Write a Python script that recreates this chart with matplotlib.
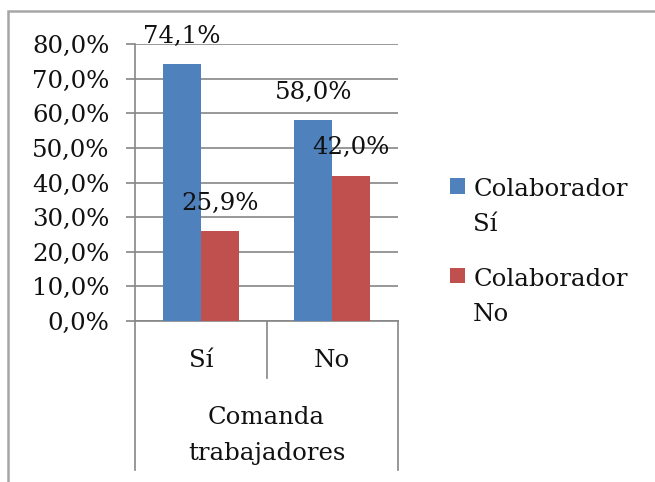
import numpy as np
import matplotlib
matplotlib.use('Agg')
import matplotlib.pyplot as plt
from matplotlib.patches import Rectangle
from matplotlib.lines import Line2D
from matplotlib.ticker import MultipleLocator, FuncFormatter

categories = ['Sí', 'No']
group_label = 'Comanda\ntrabajadores'
series_names = ['Colaborador\nSí', 'Colaborador\nNo']
colab_si = [74.1, 58.0]
colab_no = [25.9, 42.0]
colors = ['#4F81BD', '#C0504D']

plt.rcParams['font.family'] = ['DejaVu Serif']
FS = 17.6
LS = 1.68
GRID = '#868686'
TXT = '#111111'

fig = plt.figure(figsize=(6.55, 4.82), dpi=100)
ax = fig.add_axes([135 / 655, 1 - 321 / 482, 263 / 655, 277 / 482])

x = np.arange(len(categories))
w = 0.29
b1 = ax.bar(x - w / 2, colab_si, w, color=colors[0], label=series_names[0], zorder=3)
b2 = ax.bar(x + w / 2, colab_no, w, color=colors[1], label=series_names[1], zorder=3)

fmt = lambda v: f'{v:.1f}%'.replace('.', ',')
for bars in (b1, b2):
    ax.bar_label(bars, labels=[fmt(v) for v in bars.datavalues], padding=12,
                 fontsize=FS, color=TXT, zorder=5)

ax.set_xlim(-0.5, 1.5)
ax.set_ylim(0, 80)
ax.yaxis.set_major_locator(MultipleLocator(10))
ax.yaxis.set_major_formatter(FuncFormatter(lambda v, p: fmt(v)))
ax.yaxis.grid(True, color=GRID, lw=1.2, zorder=0)
ax.tick_params(axis='y', length=6.5, width=1.2, color=GRID, labelsize=FS,
               pad=12, labelcolor=TXT)
ax.set_xticks([])
for s in ('top', 'right'):
    ax.spines[s].set_visible(False)
for s in ('left', 'bottom'):
    ax.spines[s].set_color(GRID)
    ax.spines[s].set_linewidth(1.2)

# category separators below the axis
for xa, ylo in ((0, -0.538), (0.5, -0.206), (1, -0.538)):
    ax.add_line(Line2D([xa, xa], [0, ylo], transform=ax.transAxes, color=GRID,
                       lw=1.2, clip_on=False))

tr = ax.get_xaxis_transform()
for xi, c in zip(x, categories):
    ax.text(xi, -0.141, c, transform=tr, ha='center', va='center', fontsize=FS,
            color=TXT)
ax.text(0.5, -0.415, group_label, transform=ax.transAxes, ha='center', va='center',
        fontsize=FS, linespacing=1.72, color=TXT)

leg = fig.legend(loc='upper left', bbox_to_anchor=(450 / 655, 1 - 178 / 482),
                 frameon=False, fontsize=FS, handlelength=0.62, handleheight=0.62,
                 handletextpad=0.33, labelspacing=1.28, borderpad=0, borderaxespad=0)
for t in leg.get_texts():
    t.set_linespacing(LS)
    t.set_color(TXT)
# square marker next to the first line of each entry
for col in leg._legend_handle_box.get_children():
    for row in col.get_children():
        row.align = 'top'

# outer chart frame
fig.add_artist(Rectangle((8 / 655, -0.1), 1.2, 1.1 - 11 / 482, transform=fig.transFigure,
                         fill=False, edgecolor='#a6a6a6', lw=1.8))

fig.savefig('out.png', dpi=100)
